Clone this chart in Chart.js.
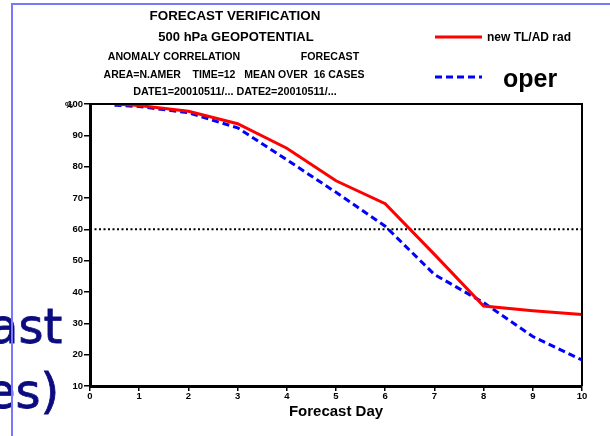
<!DOCTYPE html>
<html>
<head>
<meta charset="utf-8">
<script src="https://cdn.jsdelivr.net/npm/chart.js@4/dist/chart.umd.min.js"></script>
<style>
  body { margin: 0; background: #fff; }
  #wrap { position: relative; width: 610px; height: 436px; overflow: hidden; }
  .slide-txt { position: absolute; color: #0c0c80; font-family: "DejaVu Sans", sans-serif; font-size: 48px; line-height: 1; white-space: nowrap; -webkit-text-stroke: 0.8px #0c0c80; }
  .edge { position: absolute; background: #7878ff; }
</style>
</head>
<body>
<div id="wrap">
  <canvas id="verifChart"></canvas>
  <div class="slide-txt" style="left:-11px; top:302px;">ast</div>
  <div class="slide-txt" style="left:-14px; top:367px;">es)</div>
  <div class="edge" style="left:11px; top:3px; width:2px; height:433px;"></div>
  <div class="edge" style="left:11px; top:3px; width:599px; height:2px;"></div>
</div>
<script>
// Datos
const days = [0.5, 1, 2, 3, 4, 5, 6, 7, 8, 9, 10];
const newTlAd = [100, 99.5, 97.7, 93.7, 85.9, 75.5, 68.2, 52, 35.5, 34, 32.8];
const oper = [99.6, 99.2, 97.2, 92.4, 82.2, 71.8, 61, 45.6, 36.6, 25.8, 18.3];
const refDays = [0, 10];
const refVals = [60, 60];

// Textos de cabecera
const titleLines = [
  { text: 'FORECAST VERIFICATION', x: 235, y: 16, size: 13.4 },
  { text: '500 hPa GEOPOTENTIAL', x: 236, y: 37, size: 13 },
  { text: 'ANOMALY CORRELATION', x: 174, y: 57, size: 10.6 },
  { text: 'FORECAST', x: 330, y: 57, size: 10.6 },
  { text: 'AREA=N.AMER    TIME=12   MEAN OVER  16 CASES', x: 234, y: 75, size: 10.5 },
  { text: 'DATE1=20010511/... DATE2=20010511/...', x: 235, y: 92, size: 10.8 }
];

const toPts = (xs, ys) => xs.map((x, i) => ({ x: x, y: ys[i] }));

const decor = {
  id: 'decor',
  afterDraw(chart) {
    const ctx = chart.ctx;
    const a = chart.chartArea;
    ctx.save();
    // marco superior y derecho
    ctx.strokeStyle = '#000';
    ctx.lineWidth = 2;
    ctx.beginPath();
    ctx.moveTo(a.left, a.top);
    ctx.lineTo(a.right, a.top);
    ctx.lineTo(a.right, a.bottom);
    ctx.stroke();

    ctx.fillStyle = '#000';
    ctx.textAlign = 'center';
    ctx.textBaseline = 'middle';
    titleLines.forEach(l => {
      ctx.font = 'bold ' + l.size + 'px "Liberation Sans", Arial, sans-serif';
      ctx.fillText(l.text, l.x, l.y);
    });

    // "%" del eje y
    ctx.font = 'bold 9px "Liberation Sans", Arial, sans-serif';
    ctx.fillText('%', 69, 106);

    // Leyenda
    const ds = chart.data.datasets;
    ctx.lineWidth = 3;
    ctx.strokeStyle = ds[0].borderColor;
    ctx.setLineDash([]);
    ctx.beginPath(); ctx.moveTo(435, 37); ctx.lineTo(482, 37); ctx.stroke();
    ctx.strokeStyle = ds[1].borderColor;
    ctx.setLineDash(ds[1].borderDash);
    ctx.beginPath(); ctx.moveTo(435, 77); ctx.lineTo(482, 77); ctx.stroke();
    ctx.setLineDash([]);
    ctx.textAlign = 'left';
    ctx.font = 'bold 12px "Liberation Sans", Arial, sans-serif';
    ctx.fillText(ds[0].label, 487, 38);
    ctx.font = 'bold 25px "Liberation Sans", Arial, sans-serif';
    ctx.fillText(ds[1].label, 503, 80);
    ctx.restore();
  }
};

new Chart(document.getElementById('verifChart'), {
  type: 'line',
  data: {
    datasets: [
      {
        label: 'new TL/AD rad',
        data: toPts(days, newTlAd),
        borderColor: '#ff0000',
        borderWidth: 3,
        pointRadius: 0,
        tension: 0
      },
      {
        label: 'oper',
        data: toPts(days, oper),
        borderColor: '#0000ff',
        borderWidth: 3,
        borderDash: [7, 4],
        pointRadius: 0,
        tension: 0
      },
      {
        label: 'ref',
        data: toPts(refDays, refVals),
        borderColor: '#000',
        borderWidth: 2,
        borderDash: [2, 2.5],
        pointRadius: 0
      }
    ]
  },
  options: {
    responsive: true,
    maintainAspectRatio: false,
    animation: false,
    layout: { padding: { top: 104, right: 28, left: 0, bottom: 15 } },
    plugins: { legend: { display: false }, tooltip: { enabled: false } },
    scales: {
      x: {
        type: 'linear',
        min: 0,
        max: 10,
        afterFit: s => { s.height = 35; },
        ticks: { stepSize: 1, color: '#000', padding: 0, font: { family: '"Liberation Sans", Arial', weight: 'bold', size: 9.5 } },
        grid: { drawOnChartArea: false, drawTicks: true, tickLength: 5, color: '#000', lineWidth: 1.5 },
        border: { color: '#000', width: 3 },
        title: { display: true, text: 'Forecast Day', color: '#000', padding: { top: 0, bottom: 0 }, font: { family: '"Liberation Sans", Arial', weight: 'bold', size: 15 } }
      },
      y: {
        min: 10,
        max: 100,
        afterFit: s => { s.width = 90; },
        ticks: { stepSize: 10, color: '#000', padding: 1, font: { family: '"Liberation Sans", Arial', weight: 'bold', size: 9.5 } },
        grid: { drawOnChartArea: false, drawTicks: true, tickLength: 6, color: '#000', lineWidth: 1.5 },
        border: { color: '#000', width: 3 }
      }
    }
  },
  plugins: [decor]
});
</script>
</body>
</html>
